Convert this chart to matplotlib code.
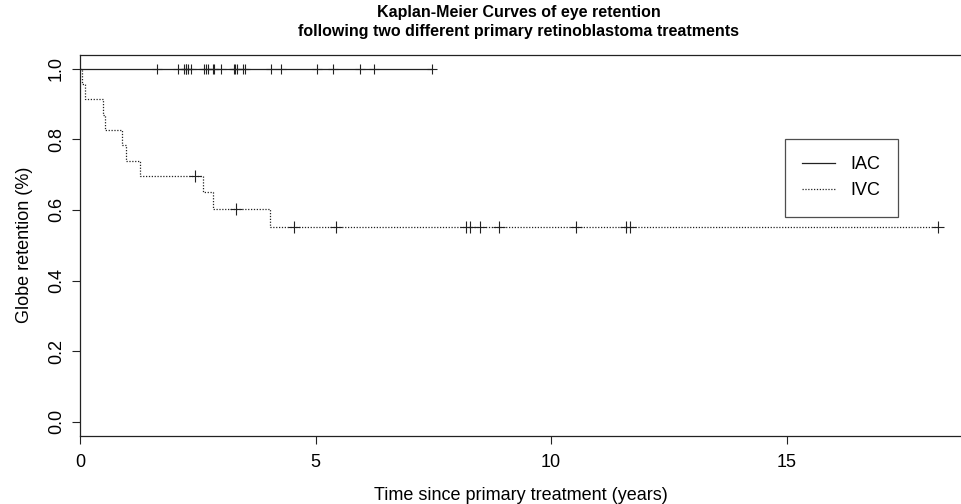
import matplotlib.pyplot as plt
import numpy as np

plt.rcParams['font.family'] = ['Liberation Sans', 'DejaVu Sans']

# IAC: no events, only censored times
iac_censor = [1.64, 2.07, 2.21, 2.24, 2.26, 2.30, 2.35, 2.63, 2.68, 2.71, 2.82, 2.85,
              2.99, 3.26, 3.30, 3.33, 3.45, 3.50, 4.05, 4.26, 5.04, 5.38, 5.94, 6.23, 7.47]
iac_end = 7.47

# IVC: step curve
ivc_time = [0, 0.05, 0.106, 0.495, 0.53, 0.885, 0.977, 1.27, 2.62, 2.82, 4.03, 18.22]
ivc_surv = [1.0, 0.957, 0.913, 0.870, 0.826, 0.783, 0.739, 0.696, 0.650, 0.603, 0.553, 0.553]
ivc_censor = [2.44, 3.31, 4.55, 5.43, 8.19, 8.28, 8.49, 8.90, 10.53, 11.59, 11.68, 18.22]


def surv_at(t):
    idx = np.searchsorted(ivc_time, t, side='right') - 1
    return ivc_surv[idx]


fig = plt.figure(figsize=(9.61, 5.04), dpi=100)
ax = fig.add_axes([80/961, (504-436)/504, 881/961, (436-54.5)/504])

col = '#222222'
ax.plot([0, iac_end], [1, 1], color=col, lw=0.9, label='IAC')
ax.plot(iac_censor, [1]*len(iac_censor), ls='none', marker='+', ms=7.5, mew=0.8, color=col)

ax.step(ivc_time, ivc_surv, where='post', color=col, lw=0.9, ls=(0, (1, 1.3)), label='IVC')
ax.plot(ivc_censor, [surv_at(t) for t in ivc_censor], ls='none', marker='+', ms=8.5, mew=0.8, color=col)

ax.set_xlim(0, 18.7)
ax.set_ylim(-0.04, 1.04)
ax.set_xticks([0, 5, 10, 15])
ax.set_yticks([0.0, 0.2, 0.4, 0.6, 0.8, 1.0])
ax.set_yticklabels(['0.0', '0.2', '0.4', '0.6', '0.8', '1.0'], rotation=90, va='center')
ax.tick_params(direction='out', length=5.8, width=0.8, color=col, labelsize=13)
ax.tick_params(axis='x', pad=7)
ax.tick_params(axis='y', pad=5)
ax.spines['right'].set_visible(False)
for s in ['left', 'top', 'bottom']:
    ax.spines[s].set_color(col)
    ax.spines[s].set_linewidth(0.9)

ax.set_xlabel('Time since primary treatment (years)', fontsize=13, labelpad=12)
ax.set_ylabel('Globe retention (%)', fontsize=13, labelpad=11)
fig.text(519/961, 1 - 22/504, 'Kaplan-Meier Curves of eye retention\nfollowing two different primary retinoblastoma treatments',
         ha='center', va='center', fontsize=11.5, fontweight='bold', linespacing=1.35)

leg = ax.legend(loc='upper left', bbox_to_anchor=(0.800, 0.778), fontsize=13, frameon=True,
                fancybox=False, edgecolor=col, handlelength=1.85, handletextpad=0.85,
                labelspacing=0.5, borderpad=0.95, borderaxespad=0)
leg.get_frame().set_linewidth(0.9)

fig.savefig('out.png', dpi=100)
